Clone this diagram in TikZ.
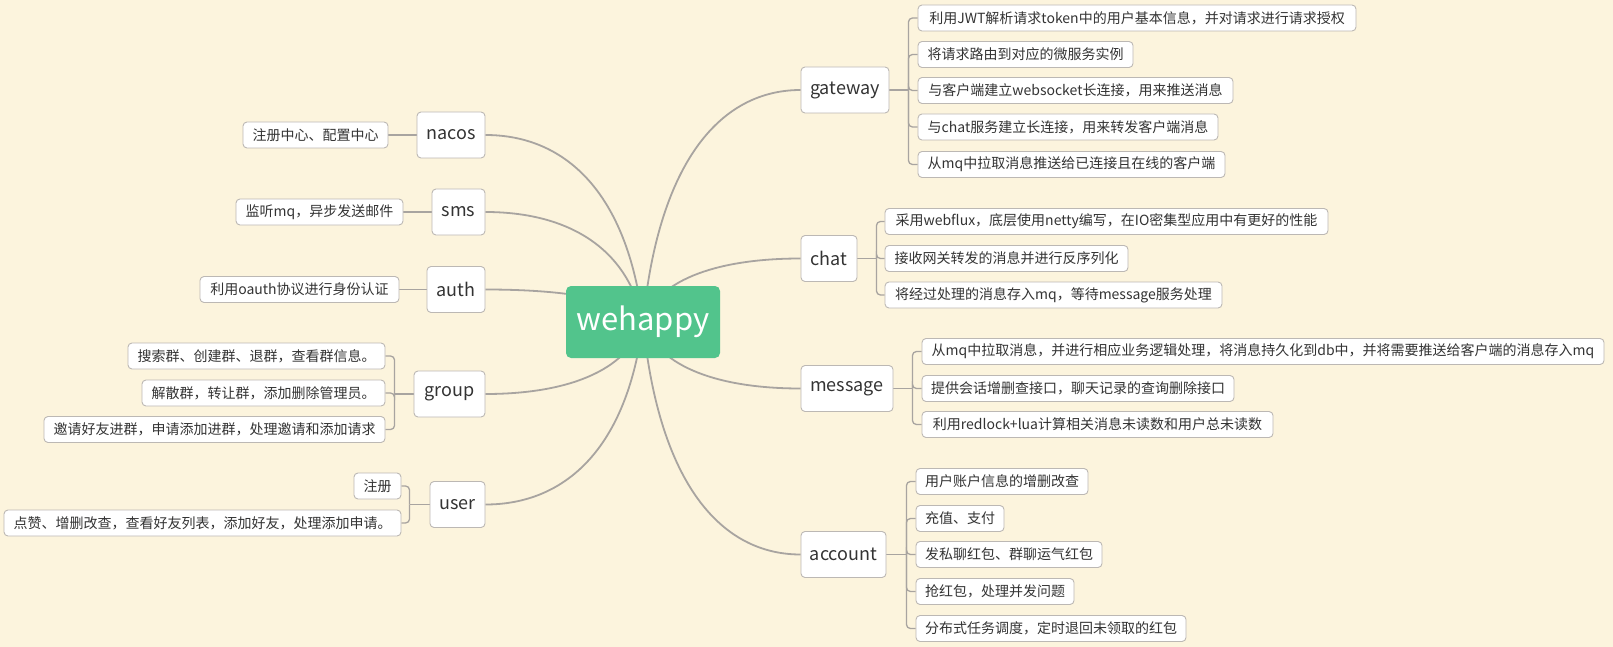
\documentclass[tikz,border=0pt]{standalone}
\usepackage{fontspec}
\setmainfont{Noto Sans CJK SC}
\usetikzlibrary{calc}
\definecolor{bgcream}{RGB}{252,244,221}
\definecolor{hubgreen}{RGB}{82,196,140}
\definecolor{linegray}{RGB}{168,164,160}
\definecolor{boxgray}{RGB}{188,184,180}
\definecolor{txtgray}{RGB}{51,51,51}
\pgfdeclarelayer{bg}
\pgfdeclarelayer{edges}
\pgfsetlayers{bg,edges,main}
\newcommand\leafbox[5]{\node[leafnode,minimum width={#3pt-#2pt}] (#1) at ({(#2+#3)/2},#4) {#5};}
\newcommand\branchbox[5]{\node[branchnode,minimum width={#3pt-#2pt}] (#1) at ({(#2+#3)/2},#4) {#5};}
\newcommand\hubcurve[1]{\draw[maincurve] let \p1=(hub.center), \p2=(#1) in (\p1) .. controls ({\x1+0.1*(\x2-\x1)},{\y1+0.7*(\y2-\y1)}) and ({\x1+0.5*(\x2-\x1)},\y2) .. (\p2);}
\begin{document}
\begin{tikzpicture}[x=1pt,y=-1pt,
  hubnode/.style={fill=hubgreen,rounded corners=5pt,text=white,font=\fontsize{31}{31}\selectfont,minimum width=154pt,minimum height=72pt,inner sep=0pt},
  branchnode/.style={draw=boxgray,line width=0.9pt,fill=white,rounded corners=4pt,text=txtgray,font=\fontsize{18}{18}\selectfont,minimum height=46pt,inner sep=0pt},
  leafnode/.style={draw=boxgray,line width=0.9pt,fill=white,rounded corners=4pt,text=txtgray,font=\fontsize{14}{14}\selectfont,minimum height=26pt,inner sep=0pt},
  maincurve/.style={draw=linegray,line width=1.8pt},
  stem/.style={draw=linegray,line width=1.6pt},
  twig/.style={draw=linegray,line width=1.3pt,rounded corners=4pt}]
\useasboundingbox (0,0) rectangle (1613,647);
\begin{pgfonlayer}{bg}
\fill[bgcream] (0,0) rectangle (1613,647);
\end{pgfonlayer}

% hub
\node[hubnode] (hub) at (643,322) {wehappy};

% right branches
\branchbox{gateway}{801}{889}{90}{gateway}
\branchbox{chat}{801}{857}{258.5}{chat}
\branchbox{message}{801}{893}{388.5}{message}
\branchbox{account}{801}{886}{554.5}{account}
% left branches
\branchbox{nacos}{417}{485}{135}{nacos}
\branchbox{sms}{432}{485}{212}{sms}
\branchbox{auth}{427}{485}{289.5}{auth}
\branchbox{group}{414}{485}{394}{group}
\branchbox{user}{430}{485}{504.5}{user}

% gateway leaves
\leafbox{g1}{918}{1356}{18}{利用JWT解析请求token中的用户基本信息，并对请求进行请求授权}
\leafbox{g2}{918}{1133}{54.5}{将请求路由到对应的微服务实例}
\leafbox{g3}{918}{1233}{90.5}{与客户端建立websocket长连接，用来推送消息}
\leafbox{g4}{918}{1218}{127}{与chat服务建立长连接，用来转发客户端消息}
\leafbox{g5}{918}{1225}{164.5}{从mq中拉取消息推送给已连接且在线的客户端}
% chat leaves
\leafbox{c1}{885}{1328}{221.5}{采用webflux，底层使用netty编写，在IO密集型应用中有更好的性能}
\leafbox{c2}{885}{1128}{258.5}{接收网关转发的消息并进行反序列化}
\leafbox{c3}{885}{1222}{295}{将经过处理的消息存入mq，等待message服务处理}
% message leaves
\leafbox{m1}{922}{1604}{351.5}{从mq中拉取消息，并进行相应业务逻辑处理，将消息持久化到db中，并将需要推送给客户端的消息存入mq}
\leafbox{m2}{922}{1234}{388.5}{提供会话增删查接口，聊天记录的查询删除接口}
\leafbox{m3}{922}{1273}{424.5}{利用redlock+lua计算相关消息未读数和用户总未读数}
% account leaves
\leafbox{a1}{916}{1088}{481.5}{用户账户信息的增删改查}
\leafbox{a2}{916}{1004}{518.5}{充值、支付}
\leafbox{a3}{916}{1102}{554.5}{发私聊红包、群聊运气红包}
\leafbox{a4}{916}{1074}{591.5}{抢红包，处理并发问题}
\leafbox{a5}{916}{1186}{628.5}{分布式任务调度，定时退回未领取的红包}
% left leaves
\leafbox{n1}{243}{388}{135}{注册中心、配置中心}
\leafbox{s1}{236}{403}{212}{监听mq，异步发送邮件}
\leafbox{au1}{200}{399}{289.5}{利用oauth协议进行身份认证}
\leafbox{gr1}{128}{385}{356}{搜索群、创建群、退群，查看群信息。}
\leafbox{gr2}{142}{385}{393}{解散群，转让群，添加删除管理员。}
\leafbox{gr3}{44}{385}{429.5}{邀请好友进群，申请添加进群，处理邀请和添加请求}
\leafbox{u1}{354}{401}{486}{注册}
\leafbox{u2}{4}{401}{523}{点赞、增删改查，查看好友列表，添加好友，处理添加申请。}

\begin{pgfonlayer}{edges}
% hub curves
\hubcurve{gateway.west}
\hubcurve{chat.west}
\hubcurve{message.west}
\hubcurve{account.west}
\hubcurve{nacos.east}
\hubcurve{sms.east}
\hubcurve{auth.east}
\hubcurve{group.east}
\hubcurve{user.east}
% brackets
\coordinate (gwj) at ([xshift=19pt]gateway.east);
\draw[stem] (gateway.east) -- (gwj);
\foreach \l in {g1,g2,g3,g4,g5} \draw[twig] (gwj) |- (\l.west);
\coordinate (chj) at ([xshift=19pt]chat.east);
\draw[stem] (chat.east) -- (chj);
\foreach \l in {c1,c2,c3} \draw[twig] (chj) |- (\l.west);
\coordinate (msj) at ([xshift=19pt]message.east);
\draw[stem] (message.east) -- (msj);
\foreach \l in {m1,m2,m3} \draw[twig] (msj) |- (\l.west);
\coordinate (acj) at ([xshift=20pt]account.east);
\draw[stem] (account.east) -- (acj);
\foreach \l in {a1,a2,a3,a4,a5} \draw[twig] (acj) |- (\l.west);
\coordinate (grj) at ([xshift=-19pt]group.west);
\draw[stem] (group.west) -- (grj);
\foreach \l in {gr1,gr2,gr3} \draw[twig] (grj) |- (\l.east);
\coordinate (usj) at ([xshift=-20pt]user.west);
\draw[stem] (user.west) -- (usj);
\foreach \l in {u1,u2} \draw[twig] (usj) |- (\l.east);
\draw[stem] (nacos.west) -- (n1.east);
\draw[stem] (sms.west) -- (s1.east);
\draw[stem] (auth.west) -- (au1.east);
\end{pgfonlayer}
\end{tikzpicture}
\end{document}
